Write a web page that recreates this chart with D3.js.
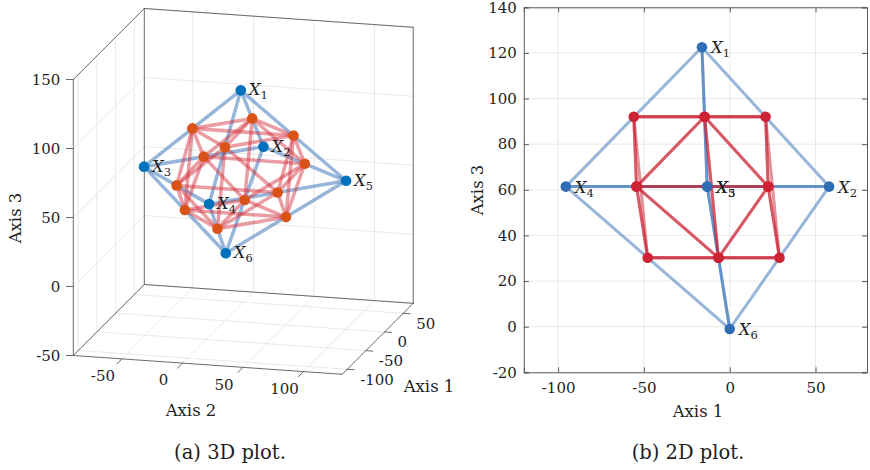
<!DOCTYPE html>
<html><head><meta charset="utf-8">
<script src="https://cdn.jsdelivr.net/npm/d3@7"></script>
<style>
body{margin:0;background:#fff}
svg text{font-family:"DejaVu Serif",serif;fill:#1e1e1e}
</style></head><body>
<svg id="c" width="870" height="470"></svg>
<script>
// ---------- data ----------
const pointNames = ["1","2","3","4","5","6"];
const ptAxis1 = [-16.2, 57.9, -13.1, -95.5, -13.1, 0.0];
const ptAxis2 = [18.2, 14.1, -62.7, 16.5, 104.3, 0.8];
const ptAxis3 = [122.5, 61.4, 61.4, 61.4, 61.4, -1.0];
const blueEdges = [[0,1],[0,2],[0,3],[0,4],[5,1],[5,2],[5,3],[5,4],[1,2],[2,3],[3,4],[4,1]];
const midAxis1 = [20.9, -14.6, -55.9, -14.7, 29.0, -6.5, -47.8, -6.6, 22.4, -54.3, -54.3, 22.4];
const midAxis2 = [16.2, -22.3, 17.4, 61.3, 7.5, -31.0, 8.7, 52.6, -24.3, -23.1, 60.4, 59.2];
const midAxis3 = [92.0, 92.0, 92.0, 92.0, 30.2, 30.2, 30.2, 30.2, 61.4, 61.4, 61.4, 61.4];
const redGroups = [[0,1,2,3],[4,5,6,7],[0,4,8,11],[1,5,8,9],[2,6,9,10],[3,7,10,11]];
const ticks1_3d = [-100,-50,0,50];
const ticks2_3d = [-50,0,50,100];
const ticks3_3d = [-50,0,50,100,150];
const lim1_3d = [-113.4, 76.8];
const lim2_3d = [-90.2, 132];
const lim3_3d = [-50, 150];
const ticksX_2d = [-100,-50,0,50];
const ticksY_2d = [-20,0,20,40,60,80,100,120,140];
const limX_2d = [-120, 80];
const limY_2d = [-20, 140];

// ---------- helpers ----------
const svg = d3.select("#c");
const redEdges = [];
redGroups.forEach(g => { for (let i=0;i<g.length;i++) for (let j=i+1;j<g.length;j++) redEdges.push([g[i],g[j]]); });
const blue = ptAxis1.map((v,i)=>({a1:v,a2:ptAxis2[i],a3:ptAxis3[i],name:pointNames[i]}));
const red = midAxis1.map((v,i)=>({a1:v,a2:midAxis2[i],a3:midAxis3[i]}));
const TF = "15px", LF = "16.5px";

function label(g, x, y, sub){
  const t = g.append("text").attr("x",x).attr("y",y).style("font-size","16.5px");
  t.append("tspan").attr("font-style","italic").text("X");
  t.append("tspan").attr("dy",4).style("font-size","11.5px").text(sub);
}

// ---------- 3D plot ----------
const A = [73.3, 355.5], V1 = [71.0, -71.0], V2 = [268.9, 18.8], V3 = [0, -276];
const s1 = d3.scaleLinear().domain(lim1_3d).range([0,1]);
const s2 = d3.scaleLinear().domain(lim2_3d).range([0,1]);
const s3 = d3.scaleLinear().domain(lim3_3d).range([0,1]);
function P(a1,a2,a3){
  const u=s1(a1), v=s2(a2), w=s3(a3);
  return [A[0]+u*V1[0]+v*V2[0]+w*V3[0], A[1]+u*V1[1]+v*V2[1]+w*V3[1]];
}
const g3 = svg.append("g");
function seg(g,p,q,stroke,w,op){
  g.append("line").attr("x1",p[0]).attr("y1",p[1]).attr("x2",q[0]).attr("y2",q[1])
   .attr("stroke",stroke).attr("stroke-width",w).attr("stroke-opacity",op===undefined?1:op)
   .attr("stroke-linecap","round");
}
const [m1,M1]=lim1_3d,[m2,M2]=lim2_3d,[m3,M3]=lim3_3d;
const gridC="#e3e3e3";
ticks2_3d.forEach(t=>seg(g3,P(m1,t,m3),P(M1,t,m3),gridC,0.8));
ticks1_3d.forEach(t=>seg(g3,P(t,m2,m3),P(t,M2,m3),gridC,0.8));
ticks1_3d.forEach(t=>seg(g3,P(t,m2,m3),P(t,m2,M3),gridC,0.8));
ticks3_3d.forEach(t=>seg(g3,P(m1,m2,t),P(M1,m2,t),gridC,0.8));
ticks2_3d.forEach(t=>seg(g3,P(M1,t,m3),P(M1,t,M3),gridC,0.8));
ticks3_3d.forEach(t=>seg(g3,P(M1,m2,t),P(M1,M2,t),gridC,0.8));
const boxC="#5a5a5a";
[[P(m1,m2,m3),P(m1,M2,m3)],[P(m1,M2,m3),P(M1,M2,m3)],[P(M1,M2,m3),P(M1,m2,m3)],[P(M1,m2,m3),P(m1,m2,m3)],
 [P(m1,m2,m3),P(m1,m2,M3)],[P(M1,m2,m3),P(M1,m2,M3)],[P(M1,M2,m3),P(M1,M2,M3)],
 [P(m1,m2,M3),P(M1,m2,M3)],[P(M1,m2,M3),P(M1,M2,M3)]].forEach(e=>seg(g3,e[0],e[1],boxC,0.9));
ticks3_3d.forEach(t=>{const p=P(m1,m2,t); seg(g3,[p[0]-7,p[1]],p,boxC,0.9);
  g3.append("text").attr("x",p[0]-13).attr("y",p[1]).attr("dy","0.35em").attr("text-anchor","end").style("font-size",TF).text(String(t));});
ticks2_3d.forEach(t=>{const p=P(m1,t,m3); seg(g3,[p[0]-5,p[1]+5],p,boxC,0.9);
  g3.append("text").attr("x",p[0]-19).attr("y",p[1]+17).attr("dy","0.35em").attr("text-anchor","middle").style("font-size",TF).text(String(t));});
ticks1_3d.forEach(t=>{const p=P(t,M2,m3); seg(g3,p,[p[0]+7,p[1]+0.5],boxC,0.9);
  g3.append("text").attr("x",p[0]+13).attr("y",p[1]+10).attr("dy","0.35em").attr("text-anchor","start").style("font-size",TF).text(String(t));});
g3.append("text").attr("x",191).attr("y",410).attr("dy","0.35em").attr("text-anchor","middle").style("font-size",LF).text("Axis 2");
g3.append("text").attr("x",429).attr("y",386).attr("dy","0.35em").attr("text-anchor","middle").style("font-size",LF).text("Axis 1");
g3.append("text").attr("transform","translate(15,218) rotate(-90)").attr("dy","0.35em").attr("text-anchor","middle").style("font-size",LF).text("Axis 3");
blueEdges.forEach(([i,j])=>seg(g3,P(blue[i].a1,blue[i].a2,blue[i].a3),P(blue[j].a1,blue[j].a2,blue[j].a3),"#2f6db5",3.5,0.5));
redEdges.forEach(([i,j])=>seg(g3,P(red[i].a1,red[i].a2,red[i].a3),P(red[j].a1,red[j].a2,red[j].a3),"#d32f3c",3.5,0.47));
const dots3 = blue.map(d=>Object.assign({c:"#0072BD"},d)).concat(red.map(d=>Object.assign({c:"#D95319"},d)));
dots3.sort((a,b)=>(b.a1-0.3*b.a2)-(a.a1-0.3*a.a2));
dots3.forEach(d=>{const p=P(d.a1,d.a2,d.a3); g3.append("circle").attr("cx",p[0]).attr("cy",p[1]).attr("r",5.3).attr("fill",d.c);});
blue.forEach(d=>{const p=P(d.a1,d.a2,d.a3); label(g3,p[0]+8,p[1]+5,d.name);});
g3.append("text").attr("x",230).attr("y",452).attr("dy","0.35em").attr("text-anchor","middle").style("font-size","19.5px").text("(a) 3D plot.");

// ---------- 2D plot ----------
const x = d3.scaleLinear().domain(limX_2d).range([523.8, 867]);
const y = d3.scaleLinear().domain(limY_2d).range([372.3, 7.3]);
const g2 = svg.append("g");
ticksX_2d.forEach(t=>seg(g2,[x(t),y(limY_2d[0])],[x(t),y(limY_2d[1])],gridC,0.8));
ticksY_2d.forEach(t=>seg(g2,[x(limX_2d[0]),y(t)],[x(limX_2d[1]),y(t)],gridC,0.8));
const fmt = d => String(d);
const axB = g2.append("g").attr("transform",`translate(0,${y(limY_2d[0])})`).call(d3.axisBottom(x).tickValues(ticksX_2d).tickSize(-5).tickPadding(10).tickFormat(fmt));
const axL = g2.append("g").attr("transform",`translate(${x(limX_2d[0])},0)`).call(d3.axisLeft(y).tickValues(ticksY_2d).tickSize(-5).tickPadding(7).tickFormat(fmt));
const axT = g2.append("g").attr("transform",`translate(0,${y(limY_2d[1])})`).call(d3.axisTop(x).tickValues(ticksX_2d).tickSize(-5).tickFormat(""));
const axR = g2.append("g").attr("transform",`translate(${x(limX_2d[1])},0)`).call(d3.axisRight(y).tickValues(ticksY_2d).tickSize(-5).tickFormat(""));
[axB,axL,axT,axR].forEach(a=>{a.selectAll("path,line").attr("stroke","#5a5a5a").attr("stroke-width",1);
  a.selectAll("text").style("font-size",TF).style("font-family","DejaVu Serif").attr("fill","#1e1e1e");});
blueEdges.forEach(([i,j])=>seg(g2,[x(blue[i].a1),y(blue[i].a3)],[x(blue[j].a1),y(blue[j].a3)],"#2f6db5",3,0.5));
redEdges.forEach(([i,j])=>seg(g2,[x(red[i].a1),y(red[i].a3)],[x(red[j].a1),y(red[j].a3)],"#cc2233",3,0.5));
blue.forEach(d=>g2.append("circle").attr("cx",x(d.a1)).attr("cy",y(d.a3)).attr("r",5.3).attr("fill","#2f6db5"));
red.forEach(d=>g2.append("circle").attr("cx",x(d.a1)).attr("cy",y(d.a3)).attr("r",5.3).attr("fill","#cc2233"));
blue.forEach(d=>label(g2,x(d.a1)+9,y(d.a3)+6,d.name));
g2.append("text").attr("x",698).attr("y",411).attr("dy","0.35em").attr("text-anchor","middle").style("font-size",LF).text("Axis 1");
g2.append("text").attr("transform","translate(477,190) rotate(-90)").attr("dy","0.35em").attr("text-anchor","middle").style("font-size",LF).text("Axis 3");
g2.append("text").attr("x",688).attr("y",452).attr("dy","0.35em").attr("text-anchor","middle").style("font-size","19.5px").text("(b) 2D plot.");
</script></body></html>
